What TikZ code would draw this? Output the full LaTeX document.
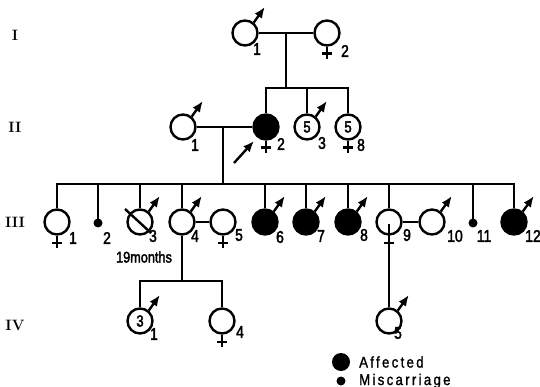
\documentclass[tikz,border=0pt]{standalone}
\usepackage{fontspec}
\newfontfamily\labfont[FakeStretch=0.82,FakeBold=2.2]{Liberation Sans}
\newfontfamily\legfont[FakeStretch=0.85,FakeBold=1.4,LetterSpace=15]{Liberation Sans}
\usetikzlibrary{arrows.meta}

% female sign below a symbol
\newcommand\femsign[1]{%
  \draw[pline] (#1.south) -- ++(0,12);
  \draw[pline] ([shift={(-5,7)}]#1.south) -- ++(10,0);}
% male sign on the upper right of a symbol
\newcommand\malesign[1]{%
  \draw[marrow] (#1.50) -- ++(11,-15.5);}

\begin{document}
\begin{tikzpicture}[x=1pt,y=-1pt,
  pline/.style={line width=2.4pt},
  person/.style={circle,draw,line width=2.4pt,minimum size=25pt,inner sep=0pt,
    font=\labfont\fontsize{16}{16}\selectfont},
  affected/.style={fill=black},
  miss/.style={circle,fill=black,draw=none,minimum size=9pt,inner sep=0pt},
  num/.style={font=\labfont\fontsize{17}{17}\selectfont,inner sep=0pt},
  gen/.style={font=\fontsize{15}{15}\selectfont\bfseries,inner sep=0pt},
  marrow/.style={line width=2.4pt,-{Latex[length=11pt,width=9pt]}},
  legtext/.style={font=\legfont\fontsize{15.5}{15.5}\selectfont,inner sep=0pt,anchor=west}]
\useasboundingbox (0,0) rectangle (540,387);

% generation labels
\node[gen] (gI) at (15,35) {I};
\node[gen] (gII) at (15,127) {II};
\node[gen] (gIII) at (15,222) {III};
\node[gen] (gIV) at (15,325) {IV};

% generation I
\node[person] (I1) at (245,33) {};
\node[person] (I2) at (327,33) {};
\malesign{I1}
\femsign{I2}
\node[num] (nI1) at (257,49) {1};
\node[num] (nI2) at (345,51) {2};
\draw[pline] (I1) -- (I2);
\coordinate (dI) at (286,33);
\coordinate (sII) at (286,88);
\draw[pline] (dI) -- (sII);

% generation II
\node[person] (II1) at (183,127) {};
\node[person,affected] (II2) at (266,127) {};
\node[person] (II3) at (307,127) {5};
\node[person] (II8) at (348,127) {5};
\malesign{II1}
\femsign{II2}
\malesign{II3}
\femsign{II8}
\node[num] (nII1) at (195,145) {1};
\node[num] (nII2) at (281,144) {2};
\node[num] (nII3) at (322,143) {3};
\node[num] (nII8) at (361,145) {8};
\draw[pline] (II2.north) -- (II2 |- sII) -- (II8 |- sII) -- (II8.north);
\draw[pline] (II3 |- sII) -- (II3.north);
\draw[pline] (II1) -- (II2);
% proband pointer
\coordinate (pbase) at (234,163);
\coordinate (ptip) at (254,141);
\draw[marrow] (pbase) -- (ptip);

% generation III
\coordinate (dII) at (223,127);
\coordinate (sIII) at (223,184);
\draw[pline] (dII) -- (sIII);
\node[person] (III1) at (57,222) {};
\node[miss] (III2) at (98,223) {};
\node[person] (III3) at (140,222) {};
\node[person] (III4) at (182,222) {};
\node[person] (III5) at (223,222) {};
\node[person,affected] (III6) at (265,222) {};
\node[person,affected] (III7) at (306,222) {};
\node[person,affected] (III8) at (348,222) {};
\node[person] (III9) at (389,222) {};
\node[person] (III10) at (432,222) {};
\node[miss] (III11) at (473,223) {};
\node[person,affected] (III12) at (514,222) {};
\femsign{III1}
\malesign{III3}
\malesign{III4}
\femsign{III5}
\malesign{III6}
\malesign{III7}
\malesign{III8}
\femsign{III9}
\malesign{III10}
\malesign{III12}
% deceased
\draw[pline] ([shift={(-15,-13)}]III3.center) -- ([shift={(11,11)}]III3.center);
\draw[pline] (III1.north) -- (III1 |- sIII) -- (III12 |- sIII) -- (III12.north);
\foreach \c in {III3,III4,III6,III7,III8,III9}
  \draw[pline] (\c |- sIII) -- (\c.north);
\draw[pline] (III2 |- sIII) -- (III2.center);
\draw[pline] (III11 |- sIII) -- (III11.center);
\draw[pline] (III4) -- (III5);
\draw[pline] (III9) -- (III10);
\node[num] (nIII1) at (73,238) {1};
\node[num] (nIII2) at (107,238) {2};
\node[num] (nIII3) at (153,236) {3};
\node[num] (nIII4) at (195,236) {4};
\node[num] (nIII5) at (239,235) {5};
\node[num] (nIII6) at (280,237) {6};
\node[num] (nIII7) at (321,236) {7};
\node[num] (nIII8) at (364,235) {8};
\node[num] (nIII9) at (407,235) {9};
\node[num] (nIII10) at (455,236) {10};
\node[num] (nIII11) at (484,236) {11};
\node[num] (nIII12) at (533,236) {12};
\node[num,font=\labfont\fontsize{15.5}{15.5}\selectfont] (age) at (144,257) {19months};

% generation IV
\node[person] (IV1) at (140,321) {3};
\node[person] (IV4) at (222,321) {};
\node[person] (IV5) at (389,321) {};
\malesign{IV1}
\femsign{IV4}
\malesign{IV5}
\node[num] (nIV1) at (154,334) {1};
\node[num] (nIV4) at (240,332) {4};
\node[num] (nIV5) at (398,333) {5};
\coordinate (sIV) at (182,281);
\draw[pline] (III4.south) -- (sIV);
\draw[pline] (IV1.north) -- (IV1 |- sIV) -- (IV4 |- sIV) -- (IV4.north);
\draw[pline] ([yshift=12pt]III9.south) -- (IV5.north);

% legend
\node[circle,fill=black,minimum size=18pt,inner sep=0pt] (keyA) at (341,362) {};
\node[miss] (keyM) at (341,381) {};
\node[legtext] (tA) at (359,362) {Affected};
\node[legtext] (tM) at (359,381) {Miscarriage};
\end{tikzpicture}
\end{document}
